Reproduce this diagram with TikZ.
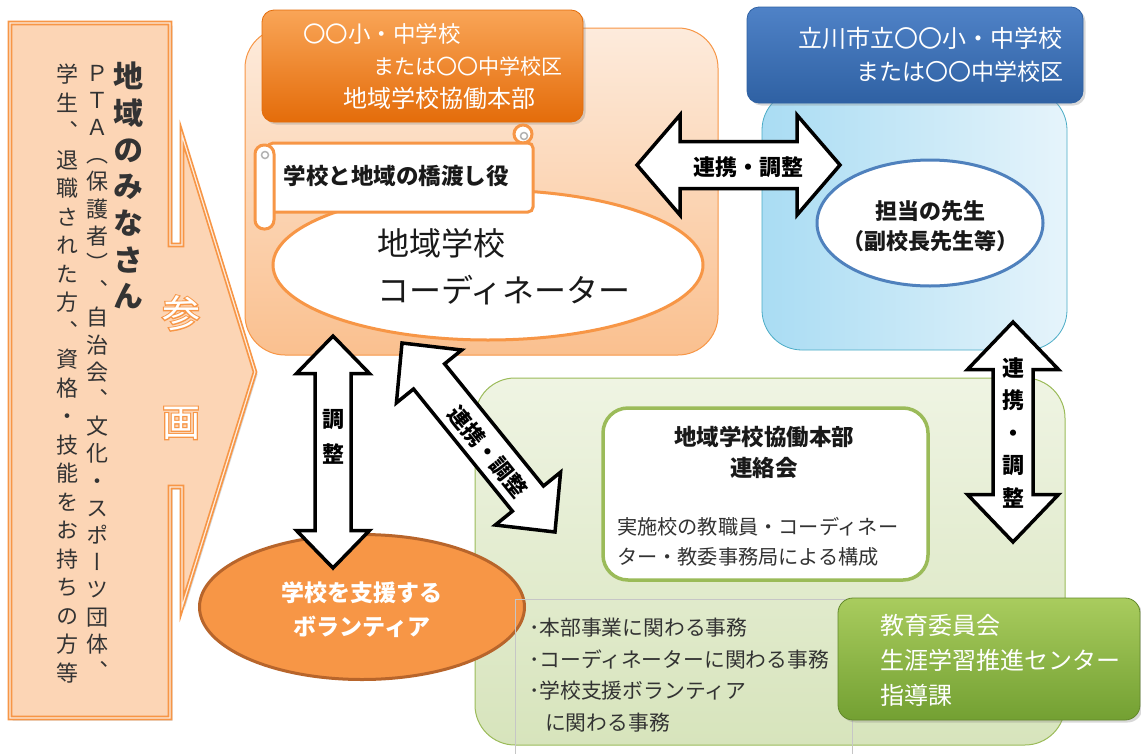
\documentclass[tikz,border=0pt]{standalone}
\usepackage{fontspec}
\setmainfont{Noto Sans CJK JP}
\newfontfamily\jpv[RawFeature=+vert]{Noto Sans CJK JP}
\newfontfamily\jpfat[FakeBold=6]{Noto Sans CJK JP}
\usetikzlibrary{calc,shapes.geometric,shadows}
\definecolor{org}{HTML}{F79646}
\definecolor{orgdark}{HTML}{B8652B}
\definecolor{peach}{HTML}{FCD5B5}
\definecolor{peachline}{HTML}{FDEBDD}
\definecolor{peachtop}{HTML}{FDEBDC}
\definecolor{peachbot}{HTML}{FAC08F}
\definecolor{hdrtop}{HTML}{F9A557}
\definecolor{hdrbot}{HTML}{E46C0A}
\definecolor{bluetop}{HTML}{4F82C7}
\definecolor{bluebot}{HTML}{2F61A3}
\definecolor{ltblueL}{HTML}{A9DCF3}
\definecolor{ltblueR}{HTML}{E6F4FB}
\definecolor{ltblueB}{HTML}{4BACC6}
\definecolor{bluee}{HTML}{4F81BD}
\definecolor{grntop}{HTML}{EFF4E3}
\definecolor{grnbot}{HTML}{D7E4BC}
\definecolor{grnb}{HTML}{9BBB59}
\definecolor{kyotop}{HTML}{A9CC5E}
\definecolor{kyobot}{HTML}{73A032}
\definecolor{txt}{HTML}{333333}
\newcommand\fsz[2]{\fontsize{#1pt}{#2pt}\selectfont}
\def\vtEnd{}
\newcommand\myvstack[1]{\myvstackA#1\vtEnd}
\def\myvstackA#1#2\vtEnd{#1\myvstackB#2\vtEnd}
\def\myvstackB#1{\ifx#1\vtEnd\let\vtNext\relax\else\def\vtNext{\\#1\myvstackB}\fi\vtNext}
\newcommand\mydblarrow[5]{%
  \coordinate (#1h) at ($(#1)!#3!(#2)$);
  \coordinate (#2h) at ($(#2)!#3!(#1)$);
  \draw[blockarrow] (#1)
    -- ($(#1h)!#4!90:(#2)$) -- ($(#1h)!#5!90:(#2)$)
    -- ($(#2h)!#5!-90:(#1)$) -- ($(#2h)!#4!-90:(#1)$)
    -- (#2)
    -- ($(#2h)!#4!90:(#1)$) -- ($(#2h)!#5!90:(#1)$)
    -- ($(#1h)!#5!-90:(#2)$) -- ($(#1h)!#4!-90:(#2)$)
    -- cycle;
}
\begin{document}
\begin{tikzpicture}[x=1pt,y=-1pt,
  every node/.style={inner sep=0pt,outer sep=0pt},
  softshadow/.style={drop shadow={opacity=0.3,shadow xshift=2.5pt,shadow yshift=-2.5pt}},
  calloutbox/.style={fill=peach,draw=org,line width=1.7pt,double=peachline,double distance=1.2pt,line join=miter,softshadow},
  mainbox/.style={rectangle,rounded corners=40pt,top color=peachtop,bottom color=peachbot,draw=org,line width=1pt},
  hdrbox/.style={rectangle,rounded corners=12pt,top color=hdrtop,bottom color=hdrbot,draw=hdrbot,line width=0.8pt,softshadow},
  bluehdr/.style={rectangle,rounded corners=12pt,top color=bluetop,bottom color=bluebot,draw=bluebot,line width=0.8pt,softshadow},
  ltbox/.style={rectangle,rounded corners=40pt,left color=ltblueL,right color=ltblueR,draw=ltblueB,line width=0.8pt},
  grnbox/.style={rectangle,rounded corners=40pt,top color=grntop,bottom color=grnbot,draw=grnb,line width=1pt},
  inbox/.style={rectangle,rounded corners=25pt,fill=white,draw=grnb,line width=3.5pt},
  kyobox/.style={rectangle,rounded corners=15pt,top color=kyotop,bottom color=kyobot,draw=kyobot!85!black,line width=0.8pt,softshadow},
  scrollst/.style={fill=white,draw=org,line width=3pt},
  blockarrow/.style={fill=white,draw=black,line width=3.5pt,line join=miter},
  arrowlbl/.style={font=\jpv\bfseries\fsz{22}{33},text=black,align=center},
  wtxt/.style={text=white,align=left}
]
\useasboundingbox[fill=white] (0,0) rectangle (1141,753);

% ---- left callout ----
\draw[calloutbox] (10,23) -- (170,23) -- (170,245) -- (182,245) -- (182,135)
  -- (255,372) -- (182,607) -- (182,487) -- (170,487) -- (170,718) -- (10,718) -- cycle;
\node[anchor=north,font=\jpv\bfseries\fsz{30}{36.7},text=txt,align=center] (colA) at (128,62) {\myvstack{地域のみなさん}};
\node[anchor=north,font=\jpv\fsz{22}{27.2},text=txt,align=center] (colB) at (97,65) {\myvstack{ＰＴＡ（保護者）、自治会、文化・スポーツ団体、}};
\node[anchor=north,font=\jpv\fsz{22}{28.5},text=txt,align=center] (colC) at (67,64) {\myvstack{学生、退職された方、資格・技能をお持ちの方等}};
\node[font=\jpfat\fsz{38}{40},text=org] (sanO) at (181,313) {参};
\node[font=\fsz{38}{40},text=white] (san) at (181,313) {参};
\node[font=\jpfat\fsz{38}{40},text=org] (kakuO) at (181,423) {画};
\node[font=\fsz{38}{40},text=white] (kaku) at (181,423) {画};

% ---- orange school block ----
\node[mainbox,minimum width=473pt,minimum height=327pt] (hbox) at (481.5,191.5) {};
\node[hdrbox,minimum width=321pt,minimum height=112pt] (hdr) at (422.5,66) {};
\node[anchor=west,text=white,font=\fsz{22.5}{26}] (hdr1) at (303,34) {〇〇小・中学校};
\node[anchor=west,text=white,font=\fsz{21}{26}] (hdr2) at (373,66) {または〇〇中学校区};
\node[anchor=west,text=white,font=\fsz{24}{26}] (hdr3) at (343,98) {地域学校協働本部};
\node[ellipse,fill=white,draw=org,line width=3pt,minimum width=430pt,minimum height=150pt] (coord) at (488,265) {};
\node[anchor=west,align=left,font=\fsz{32}{47},text=black!90] (coordT) at (377,267) {地域学校\\コーディネーター};
% scroll banner
\draw[scrollst] (523,134) circle[radius=9pt];
\draw[gray!60,line width=1.5pt] (524,136) circle[radius=3.5pt];
\draw[scrollst,rounded corners=5pt] (268,143) rectangle (533,212);
\draw[scrollst,rounded corners=9pt] (255,145) rectangle (274,229);
\draw[gray!60,line width=1.5pt] (265,155) circle[radius=3.5pt];
\node[font=\bfseries\fsz{22.5}{26},text=black!90] (bridge) at (396,176) {学校と地域の橋渡し役};

% ---- blue city block ----
\node[ltbox,minimum width=305pt,minimum height=260pt] (bbox) at (914.5,220) {};
\node[bluehdr,minimum width=336pt,minimum height=96pt] (bhdr) at (915,55) {};
\node[anchor=east,text=white,font=\fsz{24}{26}] (blu1) at (1062,38) {立川市立〇〇小・中学校};
\node[anchor=east,text=white,font=\fsz{23}{26}] (blu2) at (1063,72) {または〇〇中学校区};
\node[ellipse,fill=white,draw=bluee,line width=3pt,minimum width=226pt,minimum height=126pt] (tantoE) at (930,223) {};
\node[align=center,font=\bfseries\fsz{22}{30},text=black!90] (tanto) at (930,226) {担当の先生\\{\addfontfeature{RawFeature=+halt}（副校長先生等）}};

% ---- green block ----
\node[grnbox,minimum width=590pt,minimum height=367pt] (gbox) at (770,561.5) {};
\node[inbox,minimum width=325pt,minimum height=172pt] (rbox) at (765.5,494) {};
\node[align=center,font=\bfseries\fsz{22.5}{31},text=black!90] (renT) at (764,452) {地域学校協働本部\\連絡会};
\node[anchor=west,align=left,font=\fsz{20.2}{30},text=txt] (renD) at (617,542) {実施校の教職員・コーディネー\\ター・教委事務局による構成};
\node[ellipse,fill=org,draw=orgdark,line width=3pt,minimum width=325pt,minimum height=145pt] (volE) at (362,607) {};
\node[align=center,font=\bfseries\fsz{23}{34},text=white] (volT) at (362,610) {学校を支援する\\ボランティア};
\draw[gray!45,line width=0.8pt] (515,760) -- (515,599) -- (852,599) -- (852,760);
\node[anchor=west,align=left,font=\fsz{20.8}{31.7},text=txt] (jimu) at (529,675) {･本部事業に関わる事務\\･コーディネーターに関わる事務\\･学校支援ボランティア\\\hspace*{16pt}に関わる事務};
\node[kyobox,minimum width=302pt,minimum height=122pt] (kbox) at (989,659) {};
\node[anchor=west,wtxt,font=\fsz{24}{35}] (kyoT) at (880,660) {教育委員会\\生涯学習推進センター\\指導課};

% ---- block arrows ----
\coordinate (hA) at (637,165); \coordinate (hB) at (840,165);
\mydblarrow{hA}{hB}{43pt}{50pt}{23.5pt}
\coordinate (vA) at (333,336); \coordinate (vB) at (333,568);
\mydblarrow{vA}{vB}{37.5pt}{36.5pt}{18pt}
\coordinate (dA) at (402,343); \coordinate (dB) at (555,532);
\mydblarrow{dA}{dB}{43pt}{42pt}{20pt}
\coordinate (rA) at (1013,322); \coordinate (rB) at (1013,542);
\mydblarrow{rA}{rB}{47.5pt}{45.5pt}{20pt}
\node[arrowlbl] (hL) at (748,167) {連携・調整};
\node[arrowlbl,font=\jpv\bfseries\fsz{22}{35}] (vL) at (333,437) {\myvstack{調整}};
\node[arrowlbl,rotate=-51] (dL) at (488,452) {連携・調整};
\node[arrowlbl,font=\jpv\bfseries\fsz{22}{32.5}] (rL) at (1013,433) {\myvstack{連携・調整}};
\end{tikzpicture}
\end{document}
